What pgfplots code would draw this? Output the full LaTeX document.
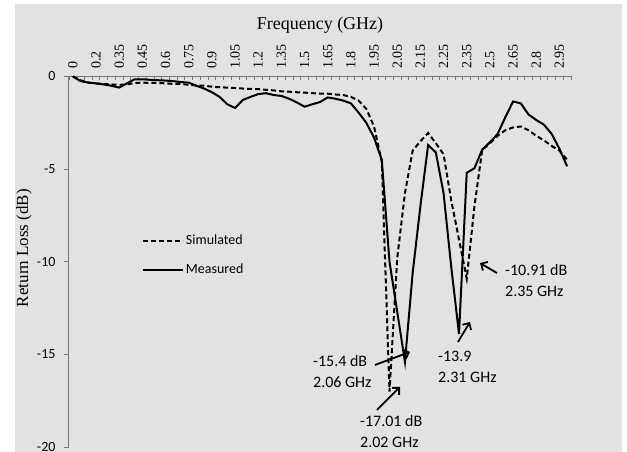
\documentclass[border=0pt]{standalone}
\usepackage{fontspec}
\setmainfont{Liberation Serif}
\newfontfamily\carlito{Carlito}
\usepackage{pgfplots}
\pgfplotsset{compat=1.18}
\usetikzlibrary{arrows.meta}
\definecolor{axgray}{RGB}{134,134,134}

\pgfplotstableread{
i val
0 0
1 -0.2
2 -0.33
3 -0.38
4 -0.4
5 -0.43
6 -0.45
7 -0.43
8 -0.35
9 -0.33
10 -0.35
11 -0.35
12 -0.37
13 -0.4
14 -0.4
15 -0.45
16 -0.48
17 -0.5
18 -0.55
19 -0.58
20 -0.6
21 -0.62
22 -0.65
23 -0.67
24 -0.68
25 -0.72
26 -0.75
27 -0.8
28 -0.82
29 -0.85
30 -0.87
31 -0.9
32 -0.92
33 -0.93
34 -0.97
35 -1.0
36 -1.1
37 -1.3
38 -1.75
39 -2.7
40 -4.6
41 -17.01
42 -9.8
43 -6.3
44 -4.0
45 -3.5
46 -3.05
47 -3.6
48 -4.2
49 -6.7
50 -8.8
51 -10.91
52 -7.0
53 -3.97
54 -3.6
55 -3.2
56 -2.9
57 -2.75
58 -2.7
59 -2.9
60 -3.2
61 -3.45
62 -3.75
63 -4.0
64 -4.5
}\simulated

\pgfplotstableread{
i val
0 0
1 -0.25
2 -0.33
3 -0.37
4 -0.43
5 -0.5
6 -0.6
7 -0.37
8 -0.15
9 -0.15
10 -0.18
11 -0.2
12 -0.22
13 -0.25
14 -0.3
15 -0.33
16 -0.5
17 -0.65
18 -0.85
19 -1.1
20 -1.5
21 -1.7
22 -1.27
23 -1.1
24 -0.95
25 -0.9
26 -1.0
27 -1.05
28 -1.2
29 -1.4
30 -1.63
31 -1.5
32 -1.38
33 -1.13
34 -1.2
35 -1.3
36 -1.45
37 -1.95
38 -2.5
39 -3.3
40 -4.5
41 -10.0
42 -12.7
43 -15.4
44 -10.6
45 -7.0
46 -3.7
47 -4.1
48 -6.3
49 -10.3
50 -13.9
51 -5.2
52 -4.95
53 -3.95
54 -3.55
55 -3.1
56 -2.2
57 -1.35
58 -1.45
59 -2.05
60 -2.35
61 -2.6
62 -3.1
63 -3.9
64 -4.85
}\measured

\begin{document}
\begin{tikzpicture}
\path[use as bounding box] (0pt,0pt) rectangle (627pt,452pt);
\begin{axis}[
  at={(69pt,5pt)}, anchor=south west,
  scale only axis, width=502pt, height=370.5pt,
  xmin=-0.5, xmax=64.5, ymin=-20, ymax=0,
  clip=false,
  axis x line=top, axis y line=left,
  axis line style={-, draw=axgray, line width=1pt},
  tick align=inside,
  xtick={0,3,...,63},
  xticklabels={0,0.2,0.35,0.45,0.6,0.75,0.9,1.05,1.2,1.35,1.5,1.65,1.8,1.95,2.05,2.15,2.25,2.35,2.5,2.65,2.8,2.95},
  xticklabel style={rotate=90, anchor=west, font=\fontsize{14}{14}\selectfont},
  xticklabel shift=4pt,
  major x tick style={draw=none},
  minor xtick={-0.5,0.5,...,64.5},
  minor tick length=4pt,
  minor x tick style={draw=axgray, line width=0.8pt},
  ytick={-20,-15,-10,-5,0},
  yticklabels={-20,-15,-10,-5,0},
  major tick length=5pt,
  ytick style={draw=axgray, line width=0.8pt, xshift=-5pt},
  yticklabel style={font=\carlito\fontsize{14}{14}\selectfont, anchor=east},
  yticklabel shift=10pt,
  xlabel={Frequency (GHz)},
  xlabel style={at={(axis description cs:0.5,1.139)}, anchor=center, font=\fontsize{18}{18}\selectfont},
  ylabel={Return Loss (dB)},
  ylabel style={at={(axis description cs:-0.0896,0.537)}, anchor=center, font=\fontsize{17}{17}\selectfont},
  legend style={draw=none, fill=none, at={(axis description cs:0.145,0.578)}, anchor=north west,
    font=\carlito\fontsize{14}{14}\selectfont, row sep=14pt, inner sep=0pt},
  legend cell align=left,
  legend image code/.code={\draw[#1] (0pt,0pt) -- (40pt,0pt);},
  axis background/.style={preaction={path picture={}}},
  execute at begin axis={},
]
\fill[black, fill opacity=0.115] (axis description cs:-0.1076,-0.0135) rectangle (axis description cs:1.1016,1.1957);
\addplot[black, line width=2pt, dash pattern=on 5pt off 3pt] table[x=i, y=val] {\simulated};
\addlegendentry{Simulated}
\addplot[black, line width=2pt] table[x=i, y=val] {\measured};
\addlegendentry{Measured}

\draw[line width=1.8pt, -{Straight Barb[length=5pt,width=10pt]}] (axis cs:54.92,-10.61) -- (axis cs:52.72,-10.07);
\node[anchor=west, align=left, font=\carlito\fontsize{16}{21}\selectfont, inner sep=0pt] at (axis cs:55.95,-11.01) {-10.91 dB\\2.35 GHz};

\draw[line width=1.8pt, -{Straight Barb[length=5pt,width=10pt]}] (axis cs:39.12,-15.57) -- (axis cs:43.65,-14.87);
\node[anchor=west, align=left, font=\carlito\fontsize{16}{21}\selectfont, inner sep=0pt] at (axis cs:31.09,-15.95) {-15.4 dB\\2.06 GHz};

\draw[line width=1.8pt, -{Straight Barb[length=5pt,width=10pt]}] (axis cs:39.38,-18.0) -- (axis cs:42.36,-16.76);
\node[anchor=west, align=left, font=\carlito\fontsize{16}{21}\selectfont, inner sep=0pt] at (axis cs:37.18,-19.14) {-17.01 dB\\2.02 GHz};

\draw[line width=1.8pt, -{Straight Barb[length=5pt,width=10pt]}] (axis cs:49.87,-14.33) -- (axis cs:51.42,-13.25);
\node[anchor=west, align=left, font=\carlito\fontsize{16}{21}\selectfont, inner sep=0pt] at (axis cs:47.28,-15.68) {-13.9\\2.31 GHz};
\end{axis}
\end{tikzpicture}
\end{document}
